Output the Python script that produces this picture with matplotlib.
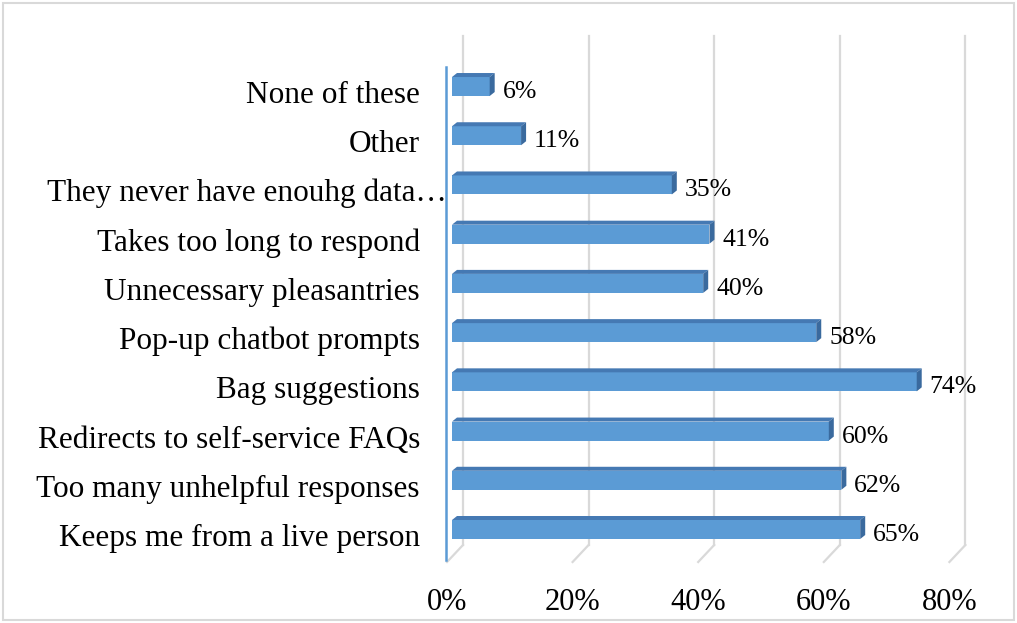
import matplotlib
matplotlib.use("Agg")
import matplotlib.pyplot as plt
from matplotlib.patches import Polygon, Rectangle
from matplotlib.lines import Line2D

# ---- data (bottom row first) ----
categories = ["Keeps me from a live person", "Too many unhelpful responses",
              "Redirects to self-service FAQs", "Bag suggestions",
              "Pop-up chatbot prompts", "Unnecessary pleasantries",
              "Takes too long to respond", "They never have enouhg data\u2026",
              "Other", "None of these"]
values = [65, 62, 60, 74, 58, 40, 41, 35, 11, 6]
tick_values = [0, 20, 40, 60, 80]
tick_labels = ["0%", "20%", "40%", "60%", "80%"]

FONT = "Liberation Serif"
W, H, DPI = 1017, 623, 100
fig = plt.figure(figsize=(W / DPI, H / DPI), dpi=DPI)
fig.patch.set_facecolor("white")

# axes geometry (pixels)
ax_left, ax_right, ax_top, ax_bot = 452, 954.4, 36, 566
ax = fig.add_axes([ax_left / W, (H - ax_bot) / H, (ax_right - ax_left) / W, (ax_bot - ax_top) / H])
xmax = 80
row0_px, row_step = 529.5, 49.22
ymin = -(ax_bot - row0_px) / row_step
ymax = (len(categories) - 1) + ((row0_px - (len(categories) - 1) * row_step) - ax_top) / row_step
ax.set_xlim(0, xmax)
ax.set_ylim(ymin, ymax)
ax.axis("off")

px_x = (ax_right - ax_left) / xmax      # pixels per percent
px_y = row_step                         # pixels per row

def dx(p):
    return p / px_x

def dy(p):
    return p / px_y

def py2y(py):
    return (row0_px - py) / row_step

grid_c = "#D9D9D9"
# back gridlines + slanted floor lines
for t in tick_values:
    xb = t + dx(11)
    ax.add_line(Line2D([xb, xb], [py2y(545), py2y(ax_top)], color=grid_c, lw=1.6, clip_on=False, zorder=1))
    ax.add_line(Line2D([t - dx(5), xb], [py2y(562), py2y(545)], color=grid_c, lw=1.6, clip_on=False, zorder=1))

# blue vertical axis line
ax.add_line(Line2D([-dx(6), -dx(6)], [py2y(560), py2y(67)], color="#5B9BD5", lw=1.8, clip_on=False, zorder=2))

# bars (3D look)
front_c, top_c, side_c = "#5B9BD5", "#4579B3", "#3A6A9E"
bh = dy(19)
ddx, ddy = dx(5), dy(4)
ys = list(range(len(categories)))
ax.barh(ys, values, height=bh, left=0, color=front_c, edgecolor="none", zorder=3)
for y, v in zip(ys, values):
    yt = y + bh / 2
    yb = y - bh / 2
    ax.add_patch(Polygon([[0, yt], [v, yt], [v + ddx, yt + ddy], [ddx, yt + ddy]],
                         closed=True, facecolor=top_c, edgecolor="none", zorder=3, clip_on=False))
    ax.add_patch(Polygon([[v, yb], [v, yt], [v + ddx, yt + ddy], [v + ddx, yb + ddy]],
                         closed=True, facecolor=side_c, edgecolor="none", zorder=3, clip_on=False))
    ax.annotate(f"{v}%", xy=(v, y), xytext=(13, -11.5), textcoords="offset pixels",
                ha="left", va="baseline", fontsize=18.5, family=FONT, color="black")

# category labels
for y, c in zip(ys, categories):
    xo = -5 if c.endswith("\u2026") else -32
    ax.annotate(c, xy=(0, y), xytext=(xo, -16.5), textcoords="offset pixels",
                ha="right", va="baseline", fontsize=22.5, family=FONT, color="black")

# x tick labels
for t, lab in zip(tick_values, tick_labels):
    ax.annotate(lab, xy=(t, py2y(ax_bot)), xytext=(-5, -(610 - ax_bot)), textcoords="offset pixels",
                ha="center", va="baseline", fontsize=22, family=FONT, color="black", annotation_clip=False)

# outer chart border
fig.patches.append(Rectangle((3 / W, 3 / H), (W - 6) / W, (H - 6) / H, transform=fig.transFigure,
                             fill=False, edgecolor="#D9D9D9", lw=1.5))

fig.savefig("out.png", dpi=DPI)
